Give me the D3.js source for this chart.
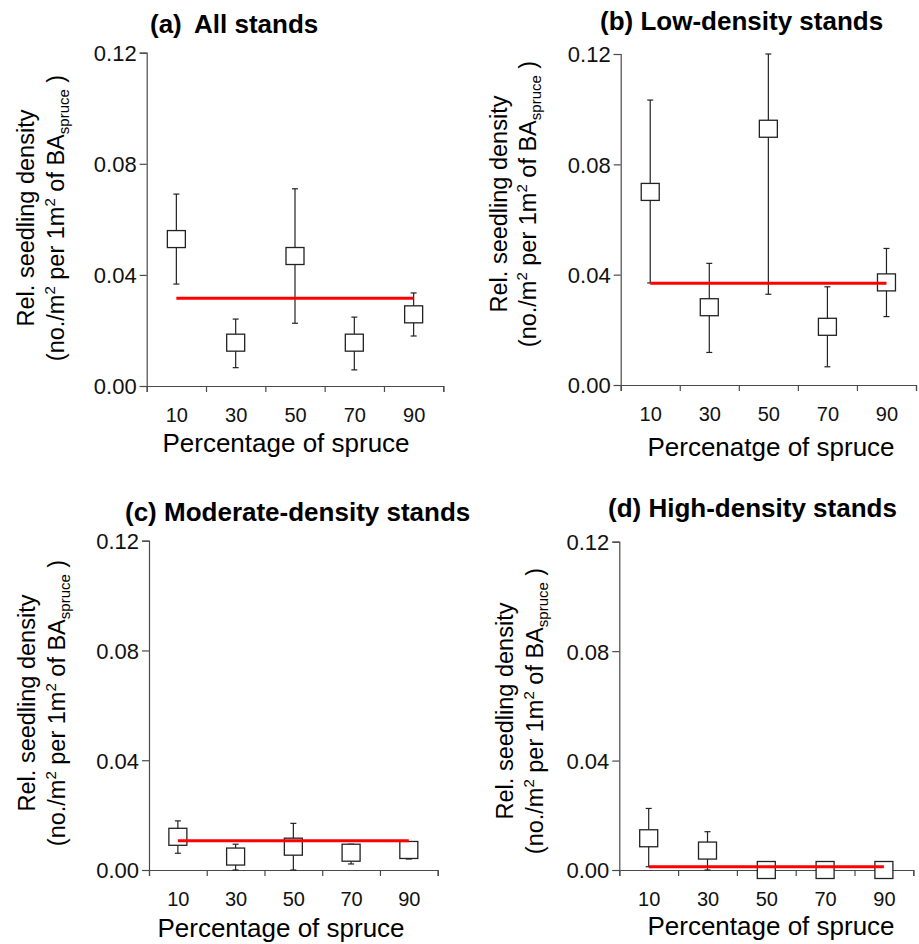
<!DOCTYPE html>
<html>
<head>
<meta charset="utf-8">
<script src="https://cdn.jsdelivr.net/npm/d3@7"></script>
<style>
  body { margin: 0; background: #fff; }
  svg { display: block; font-family: "Liberation Sans", Arial, sans-serif; }
  .axis path, .axis line { stroke: #4a4a4a; stroke-width: 1.2; }
  .axis text { fill: #111; }
</style>
</head>
<body>
<div id="chart"></div>
<script>
// values (relative seedling density)
var spruce = [10, 30, 50, 70, 90];
var xTicks = [0, 20, 40, 60, 80, 100];
var yTicks = [0, 0.04, 0.08, 0.12];

var allMean  = [0.0529, 0.0156, 0.0468, 0.0156, 0.0258];
var allLower = [0.0367, 0.0066, 0.0226, 0.0058, 0.0180];
var allUpper = [0.0691, 0.0241, 0.0710, 0.0248, 0.0335];
var allFit = 0.0316;

var lowMean  = [0.0700, 0.0282, 0.0929, 0.0211, 0.0372];
var lowLower = [0.0370, 0.0118, 0.0329, 0.0066, 0.0248];
var lowUpper = [0.1033, 0.0441, 0.1200, 0.0356, 0.0495];
var lowFit = 0.0369;

var modMean  = [0.0121, 0.0049, 0.0085, 0.0063, 0.0073];
var modLower = [0.0061, 0.0000, 0.0000, 0.0022, 0.0040];
var modUpper = [0.0179, 0.0094, 0.0170, 0.0094, 0.0095];
var modFit = 0.0107;

var highMean  = [0.0116, 0.0071, 0, 0, 0];
var highLower = [0.0012, 0.0000, 0, 0, 0];
var highUpper = [0.0225, 0.0140, 0, 0, 0];
var highFit = 0.0012;

var W = 919, H = 944;
var svg = d3.select("#chart").append("svg")
  .attr("width", W).attr("height", H);

// panel frames: axis left/right/top/bottom, title and label placement
var panels = [
  { tag: "(a)", gap: 6, name: "All stands", mean: allMean, lo: allLower, hi: allUpper, fit: allFit,
    l: 146.7, r: 443.3, t: 52.7, b: 386, tx: 150, ty: 33,
    xl: "Percentage of spruce", xlx: 286, xly: 452, yl1: -113, yl2: -83, ylc: 218 },
  { tag: "(b)", gap: 0, name: "Low-density stands", mean: lowMean, lo: lowLower, hi: lowUpper, fit: lowFit,
    l: 620.7, r: 916, t: 54, b: 385, tx: 600, ty: 30,
    xl: "Percenatge of spruce", xlx: 771, xly: 456, yl1: -114, yl2: -85, ylc: 204 },
  { tag: "(c)", gap: 0, name: "Moderate-density stands", mean: modMean, lo: modLower, hi: modUpper, fit: modFit,
    l: 149, r: 437.7, t: 540.7, b: 870, tx: 125, ty: 521,
    xl: "Percentage of spruce", xlx: 281, xly: 937, yl1: -114, yl2: -84, ylc: 703 },
  { tag: "(d)", gap: 0, name: "High-density stands", mean: highMean, lo: highLower, hi: highUpper, fit: highFit,
    l: 619.3, r: 913.3, t: 541.7, b: 870, tx: 608, ty: 517,
    xl: "Percentage of spruce", xlx: 771, xly: 935, yl1: -106, yl2: -76, ylc: 711 }
];

panels.forEach(function (p) {
  var x = d3.scaleLinear().domain([0, 100]).range([p.l, p.r]);
  var y = d3.scaleLinear().domain([0, 0.12]).range([p.b, p.t]);
  var g = svg.append("g");

  // title
  var title = g.append("text").attr("x", p.tx).attr("y", p.ty)
    .attr("font-size", "26px").attr("font-weight", "bold").attr("fill", "#000");
  title.append("tspan").text(p.tag + " ");
  title.append("tspan").attr("dx", p.gap).text(p.name);

  // y axis
  var ya = g.append("g").attr("class", "axis")
    .attr("transform", "translate(" + p.l + ",0)")
    .call(d3.axisLeft(y).tickValues(yTicks).tickFormat(d3.format(".2f"))
      .tickSizeOuter(0).tickSize(7).tickPadding(3));
  ya.selectAll("text").attr("font-size", "22px").attr("dy", "0.36em");

  // x axis: ticks at 0..100, labels at category centres
  g.append("g").attr("class", "axis")
    .attr("transform", "translate(0," + p.b + ")")
    .call(d3.axisBottom(x).tickValues(xTicks).tickFormat("")
      .tickSizeOuter(0).tickSize(6));
  var xl = g.append("g").attr("class", "axis")
    .attr("transform", "translate(0," + p.b + ")")
    .call(d3.axisBottom(x).tickValues(spruce).tickSize(0).tickPadding(22));
  xl.select(".domain").remove();
  xl.selectAll("text").attr("font-size", "20px");

  // axis titles
  g.append("text").attr("x", p.xlx).attr("y", p.xly)
    .attr("text-anchor", "middle").attr("font-size", "26px").attr("fill", "#000")
    .text(p.xl);

  var yg = g.append("g")
    .attr("transform", "translate(" + p.l + "," + p.ylc + ") rotate(-90)");
  yg.append("text").attr("x", 0).attr("y", p.yl1)
    .attr("text-anchor", "middle").attr("font-size", "23.5px").attr("fill", "#000")
    .text("Rel. seedling density");
  var l2 = yg.append("text").attr("x", 0).attr("y", p.yl2)
    .attr("text-anchor", "middle").attr("font-size", "23.5px").attr("fill", "#000");
  l2.append("tspan").text("(no./m");
  l2.append("tspan").attr("font-size", "15px").attr("dy", -9).text("2");
  l2.append("tspan").attr("dy", 9).text(" per 1m");
  l2.append("tspan").attr("font-size", "15px").attr("dy", -9).text("2");
  l2.append("tspan").attr("dy", 9).text(" of BA");
  l2.append("tspan").attr("font-size", "15px").attr("dy", 5).text("spruce");
  l2.append("tspan").attr("dy", -5).text(" )");

  var pts = spruce.map(function (s, i) {
    return { s: s, m: p.mean[i], lo: p.lo[i], hi: p.hi[i] };
  });

  // error bars
  var eb = g.append("g").attr("stroke", "#222").attr("stroke-width", 1.2);
  pts.filter(function (d) { return d.hi > d.lo; }).forEach(function (d) {
    var cx = x(d.s);
    eb.append("line").attr("x1", cx).attr("x2", cx)
      .attr("y1", y(d.lo)).attr("y2", y(d.hi));
    [d.lo, d.hi].forEach(function (v) {
      eb.append("line").attr("x1", cx - 3).attr("x2", cx + 3)
        .attr("y1", y(v)).attr("y2", y(v));
    });
  });

  // open squares
  g.append("g").selectAll("rect").data(pts).join("rect")
    .attr("x", function (d) { return x(d.s) - 9; })
    .attr("y", function (d) { return y(d.m) - 8.5; })
    .attr("width", 18).attr("height", 17)
    .attr("fill", "#fff").attr("stroke", "#222").attr("stroke-width", 1.3);

  // fitted constant (red line)
  g.append("line")
    .attr("x1", x(spruce[0])).attr("x2", x(spruce[spruce.length - 1]))
    .attr("y1", y(p.fit)).attr("y2", y(p.fit))
    .attr("stroke", "#ff0000").attr("stroke-width", 3);
});
</script>
</body>
</html>
